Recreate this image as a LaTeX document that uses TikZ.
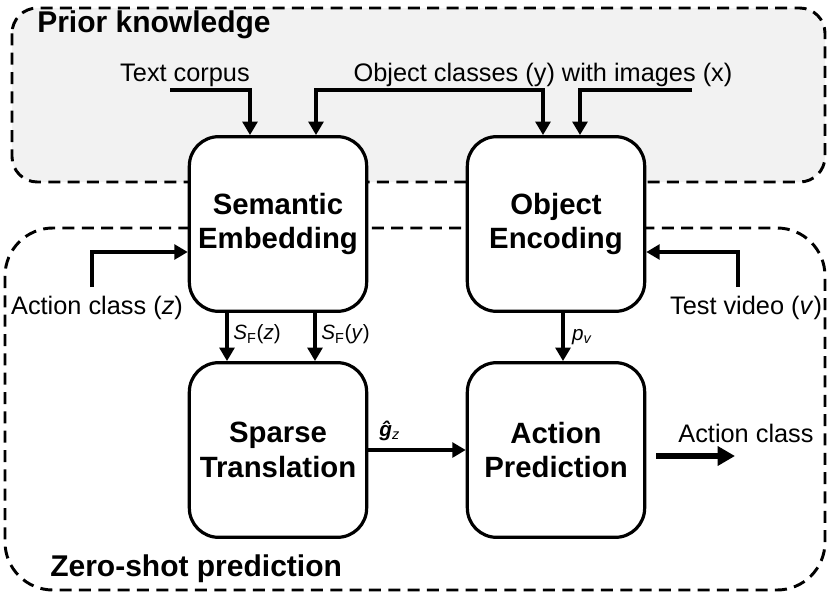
\documentclass[tikz,border=0pt]{standalone}
\usepackage{fontspec}
\setmainfont{Liberation Sans}
\usetikzlibrary{arrows.meta, calc}
\definecolor{priorbg}{HTML}{F2F2F2}

\begin{document}
\begin{tikzpicture}[x=0.75pt, y=-0.75pt,
	block/.style={draw, fill=white, line width=2.4pt, rounded corners=22pt,
		minimum width=133pt, minimum height=131pt, align=center,
		font=\bfseries\fontsize{22}{26}\selectfont},
	region/.style={line width=2.2pt, dash pattern=on 9pt off 5.5pt},
	title/.style={anchor=west, inner sep=0pt, font=\bfseries\fontsize{22.5}{26}\selectfont},
	flow/.style={line width=3.5pt, >={Triangle[length=10pt, width=11pt]}},
	bigflow/.style={line width=5pt, -{Triangle[length=13pt, width=14pt]}},
	lbl/.style={font=\fontsize{19}{22}\selectfont, inner sep=0pt},
	sub/.style={font=\fontsize{15.5}{18}\selectfont, inner sep=3pt}]
	\useasboundingbox (0,0) rectangle (831,596);
	
	% Dashed regions behind the blocks
	\draw[region, fill=priorbg, rounded corners=19pt] (12,8) rectangle (825,182);
	\draw[region, rounded corners=36pt] (5,228) rectangle (825,590);
	\node[title] (prior) at (37,25) {Prior knowledge};
	\node[title] (zeroshot) at (50,569) {Zero-shot prediction};
	
	% The four blocks
	\node[block] (sem) at (278,224) {Semantic\\Embedding};
	\node[block] (obj) at (556,224) {Object\\Encoding};
	\node[block] (sparse) at (278,450) {Sparse\\Translation};
	\node[block] (pred) at (556,450) {Action\\Prediction};
	
	% Prior knowledge inputs
	\node[lbl] (corpustxt) at (185,75) {Text corpus};
	\node[lbl] (classtxt) at (543,75) {Object classes (y) with images (x)};
	\coordinate (corpus) at (170,90);
	\coordinate (cls1) at (316,90);
	\coordinate (cls2) at (543,90);
	\coordinate (img) at (692,90);
	\draw[flow, ->] (corpus) -| ($(sem.north)+(-28,0)$);
	\draw[flow, <->] ($(sem.north)+(38,0)$) -- (cls1) -- (cls2) -- ($(obj.north)+(-13,0)$);
	\draw[flow, ->] (img) -| ($(obj.north)+(24,0)$);
	
	% Zero-shot inputs
	\node[lbl] (ztxt) at (97,308) {Action class (\textit{z})};
	\node[lbl] (vtxt) at (746,308) {Test video (\textit{v})};
	\coordinate (zin) at (92,287);
	\coordinate (vin) at (738,287);
	\draw[flow, ->] (zin) |- ($(sem.west)+(0,28)$);
	\draw[flow, ->] (vin) |- ($(obj.east)+(0,28)$);
	
	% Between the blocks
	\draw[flow, ->] ($(sem.south)+(-51,0)$) -- ($(sparse.north)+(-51,0)$)
		node[sub, midway, right, yshift=2pt] {\textit{S}\textsubscript{F}(\textit{z})};
	\draw[flow, ->] ($(sem.south)+(37,0)$) -- ($(sparse.north)+(37,0)$)
		node[sub, midway, right, yshift=2pt] {\textit{S}\textsubscript{F}(\textit{y})};
	\draw[flow, ->] ($(obj.south)+(7,0)$) -- ($(pred.north)+(7,0)$)
		node[sub, midway, right, xshift=2pt] {\textit{p}\textsubscript{\textit{v}}};
	\draw[flow, ->] (sparse) -- (pred)
		node[sub, pos=0.22, above, yshift=2pt] {\textbf{\textit{ĝ}}\textsubscript{\textit{z}}};
	
	% Output
	\node[lbl] (outtxt) at (746,433) {Action class};
	\coordinate (out) at (735,456);
	\draw[bigflow] ($(pred.east)+(10,6)$) -- (out);
\end{tikzpicture}
\end{document}
